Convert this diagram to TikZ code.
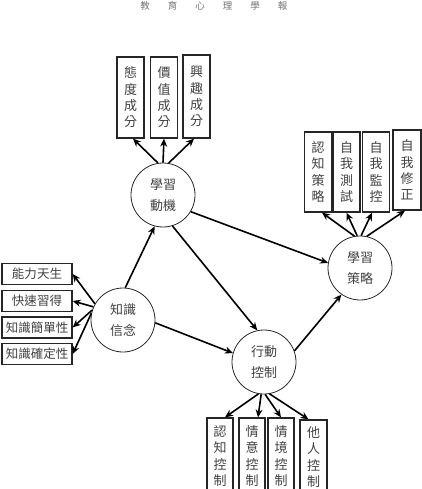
\documentclass[tikz,border=0pt]{standalone}
\usepackage{fontspec}
\newfontfamily\cjk{Noto Sans CJK TC}
\usetikzlibrary{arrows.meta}
\tikzset{
  vbox/.style={draw=black!85, line width=1.3, minimum width=27, minimum height=81, inner sep=0pt,
    align=center, text=black!75, font=\cjk\fontsize{13}{16.3}\selectfont},
  hbox/.style={draw=black!85, line width=1.3, minimum width=70, minimum height=21, inner sep=0pt,
    text=black!75, font=\cjk\fontsize{12.5}{14}\selectfont},
  circ/.style={circle, draw=black!85, line width=0.8, minimum size=64, inner sep=0pt,
    align=center, text=black!75, font=\cjk\fontsize{13}{21}\selectfont},
  arr/.style={-{Stealth[length=8pt,width=7pt]}, line width=1.6, black},
  hdr/.style={text=black!55, font=\cjk\fontsize{9.5}{11}\selectfont, inner sep=0pt}
}
\begin{document}
\begin{tikzpicture}[x=1pt,y=-1pt]
\path[use as bounding box] (0,0) rectangle (422,489);
\clip (0,0) rectangle (422,489);
% header
\node[hdr] (h1) at (145,6) {教};
\node[hdr] (h2) at (172.5,6) {育};
\node[hdr] (h3) at (200,6) {心};
\node[hdr] (h4) at (227.5,6) {理};
\node[hdr] (h5) at (255,6) {學};
\node[hdr] (h6) at (282.5,6) {報};
% circles
\node[circ] (LM) at (163,195) {學習\\動機};
\node[circ] (LS) at (360,268) {學習\\策略};
\node[circ] (ZS) at (123,320) {知識\\信念};
\node[circ] (XK) at (264,362) {行動\\控制};
% top boxes
\node[vbox] (b1) at (130.5,97.5) {態\\度\\成\\分};
\node[vbox] (b2) at (164,97.5) {價\\值\\成\\分};
\node[vbox, minimum height=83] (b3) at (196.5,96.5) {興\\趣\\成\\分};
% right boxes
\node[vbox, minimum height=80] (r1) at (318,172) {認\\知\\策\\略};
\node[vbox, minimum height=80] (r2) at (346.5,172) {自\\我\\測\\試};
\node[vbox, minimum height=80] (r3) at (376,172) {自\\我\\監\\控};
\node[vbox, minimum height=80, minimum width=28] (r4) at (407,170) {自\\我\\修\\正};
% left boxes
\node[hbox] (l1) at (37,274) {能力天生};
\node[hbox] (l2) at (37,301) {快速習得};
\node[hbox] (l3) at (37,327.5) {知識簡單性};
\node[hbox] (l4) at (37,354) {知識確定性};
% bottom boxes (run off the lower edge)
\node[vbox, minimum width=26, minimum height=76] (d1) at (220,456) {認\\知\\控\\制};
\node[vbox, minimum width=26, minimum height=76] (d2) at (252,456) {情\\意\\控\\制};
\node[vbox, minimum width=26, minimum height=76] (d3) at (281,456) {情\\境\\控\\制};
\node[vbox, minimum width=27, minimum height=74] (d4) at (313.5,457) {他\\人\\控\\制};
% arrows
\draw[arr] (LM.99) -- ([xshift=2.5]b1.south);
\draw[arr] (LM.90) -- (b2.south);
\draw[arr] (LM.80) -- ([xshift=-2.5]b3.south);
\draw[arr] (LM.-31) -- (LS.171);
\draw[arr] (LM.-73) -- (XK.102);
\draw[arr] (ZS.86) -- (LM.-105);
\draw[arr] (ZS.-5) -- (XK.164);
\draw[arr] (XK.20) -- (LS.-125);
\draw[arr] (ZS.150) -- (l1.east);
\draw[arr] (ZS.156) -- (l2.east);
\draw[arr] (ZS.162) -- (l3.east);
\draw[arr] (ZS.168) -- (l4.east);
\draw[arr] (LS.100) -- ([xshift=4]r1.south);
\draw[arr] (LS.95) -- (r2.south);
\draw[arr] (LS.88) -- ([xshift=-4]r3.south);
\draw[arr] (LS.78) -- ([xshift=-2]r4.south);
\draw[arr] (XK.-100) -- ([xshift=5]d1.north);
\draw[arr] (XK.-95) -- ([xshift=6]d2.north);
\draw[arr] (XK.-88) -- (d3.north);
\draw[arr] (XK.-80) -- ([xshift=-5]d4.north);
\end{tikzpicture}
\end{document}
